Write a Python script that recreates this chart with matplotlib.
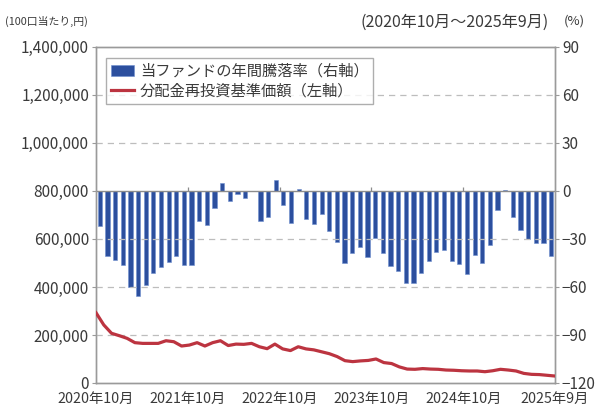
import matplotlib.pyplot as plt
import numpy as np

plt.rcParams['font.family'] = ['Noto Sans CJK JP', 'DejaVu Sans']

# 年間騰落率 (%) 2020年10月～2025年9月, monthly
annual_return = [
    -22, -40.5, -43, -46, -60, -65.5, -59, -51, -47.5, -44.5,
    -40.5, -46, -46, -19, -21.5, -10.5, 4.8, -6.5, -2, -4.3,
    -0.3, -18.5, -16.5, 7, -9, -20, 1.5, -17.5, -20.5, -14.5,
    -25, -31.7, -45.3, -39, -35, -41, -29.4, -38.6, -46.7, -50,
    -57.6, -57.8, -51, -44, -38.2, -37, -44, -45.4, -51.7, -39.8,
    -45.3, -34, -12, 0.3, -16.3, -24.2, -30, -32.7, -32.8, -40.4,
]

# 分配金再投資基準価額 (円)
nav = [
    293000, 242000, 207000, 197000, 186000, 168000, 165000, 165000, 165000, 176000,
    172000, 154000, 158000, 168000, 154000, 168000, 176000, 156000, 162000, 161000,
    165000, 151000, 143000, 162000, 142000, 135000, 151000, 142000, 138000, 130000,
    122000, 110000, 93000, 89000, 92000, 94000, 100000, 85000, 81000, 67000,
    58000, 57000, 60000, 58000, 57000, 54000, 53000, 51000, 50000, 50000,
    47000, 51000, 57000, 54000, 50000, 40000, 36000, 35000, 32000, 29000,
]

x_labels = ['2020年10月', '2021年10月', '2022年10月', '2023年10月', '2024年10月', '2025年9月']
left_ticks = [0, 200000, 400000, 600000, 800000, 1000000, 1200000, 1400000]
right_ticks = [-120, -90, -60, -30, 0, 30, 60, 90]

n = len(annual_return)
ind = np.arange(n)
line_x = np.linspace(-0.5, n - 0.5, len(nav))

fig = plt.figure(figsize=(5.98, 4.08), dpi=100)
ax = fig.add_axes([0.1605, 0.0613, 0.7675, 0.8237])
ax2 = ax.twinx()

grey = '#9a9a9a'
txt = '#3a3a3a'

# gridlines (left axis values)
for v in left_ticks[1:-1]:
    if v == 800000:
        ax.axhline(v, color='#8c8c8c', linewidth=1.0, zorder=1)
    else:
        ax.axhline(v, color='#bdbdbd', linewidth=0.9, linestyle=(0, (5, 4)), zorder=1)

line, = ax.plot(line_x, nav, color='#bc3440', linewidth=2.3, zorder=3)
ax.set_ylim(0, 1400000)
ax.set_yticks(left_ticks)
ax.set_yticklabels(['{:,}'.format(v) for v in left_ticks])
ax.set_xlim(-0.5, n - 0.5)
bounds = [-0.5, 11.5, 23.5, 35.5, 47.5, n - 0.5]
ax.set_xticks(bounds)
ax.set_xticklabels(x_labels)

bars = ax2.bar(ind, annual_return, 0.55, color='#2c4f9e', edgecolor='#6f8fcf', linewidth=0.4, zorder=2)
ax2.set_ylim(-120, 90)
ax2.set_yticks(right_ticks)
ax2.vlines(bounds[1:-1], 0, 2.2, color='#8c8c8c', linewidth=0.9)

for a in (ax, ax2):
    for s in a.spines.values():
        s.set_color(grey)
        s.set_linewidth(1.0)
ax.tick_params(axis='y', length=3, color=grey, labelsize=11, labelcolor=txt, pad=2)
ax.tick_params(axis='x', length=0, labelsize=10.3, labelcolor=txt, pad=6.5)
ax2.tick_params(axis='y', length=3, color=grey, labelsize=11, labelcolor=txt, pad=2)

fig.text(0.008, 0.948, '(100口当たり,円)', fontsize=7.8, color=txt, ha='left', va='center')
fig.text(0.918, 0.945, '(2020年10月～2025年9月)', fontsize=11.5, color=txt, ha='right', va='center')
fig.text(0.943, 0.948, '(%)', fontsize=9.5, color=txt, ha='left', va='center')

leg = ax.legend([bars, line], ['当ファンドの年間騰落率（右軸）', '分配金再投資基準価額（左軸）'],
                loc='upper left', bbox_to_anchor=(0.006, 0.99), fontsize=11,
                frameon=True, fancybox=False, edgecolor=grey, borderpad=0.3,
                labelspacing=0.2, handlelength=1.5, handletextpad=0.4)
leg.get_frame().set_linewidth(1.0)
leg.set_zorder(5)
for t in leg.get_texts():
    t.set_color(txt)
ax.set_zorder(ax2.get_zorder() + 1)
ax.patch.set_visible(False)

fig.savefig('out.png', dpi=100)
